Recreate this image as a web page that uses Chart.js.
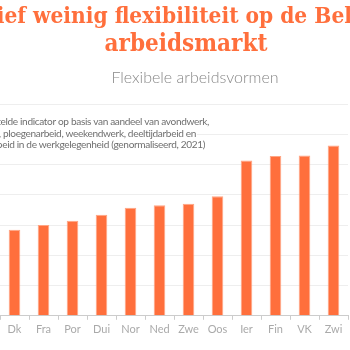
<!DOCTYPE html>
<html>
<head>
<meta charset="utf-8">
<script src="https://cdn.jsdelivr.net/npm/chart.js@4/dist/chart.umd.min.js"></script>
<style>
  html, body { margin: 0; padding: 0; background: #fff; overflow: hidden; }
  #wrap { width: 350px; height: 350px; }
</style>
</head>
<body>
<div id="wrap"><canvas id="flexChart" width="350" height="350"></canvas></div>
<script>
// Landen (afgekort) en samengestelde indicator
const landen = ['Dk', 'Fra', 'Por', 'Dui', 'Nor', 'Ned', 'Zwe', 'Oos', 'Ier', 'Fin', 'VK', 'Zwi'];
const indicator = [0.284, 0.300, 0.314, 0.334, 0.357, 0.365, 0.370, 0.395, 0.513, 0.528, 0.530, 0.563];
const yTicks = [0, 0.1, 0.2, 0.3, 0.4, 0.5, 0.6, 0.7];

const titelRegels = ['Relatief weinig flexibiliteit op de Belgische', 'arbeidsmarkt'];
const ondertitel = 'Flexibele arbeidsvormen';
const toelichting = [
    'Samengestelde indicator op basis van aandeel van avondwerk,',
    'nachtwerk, ploegenarbeid, weekendwerk, deeltijdarbeid en',
    'tijdelijke arbeid in de werkgelegenheid (genormaliseerd, 2021)'
];

const oranje = '#ff6f3c';

// Titels en toelichting zelf tekenen
const tekstPlugin = {
    id: 'tekstPlugin',
    beforeDatasetsDraw(chart) {
        const ctx = chart.ctx;
        ctx.save();
        ctx.font = '10.1px Lato';
        ctx.letterSpacing = '-0.35px';
        ctx.textAlign = 'right';
        ctx.textBaseline = 'alphabetic';
        const eindes = [209, 196, 205];
        const basis = [125, 136.5, 148.2];
        toelichting.forEach((regel, i) => {
            const w = ctx.measureText(regel).width;
            ctx.fillStyle = '#fff';
            ctx.fillRect(eindes[i] - w, basis[i] - 9, w + 1, 12);
            ctx.fillStyle = '#6f6f6f';
            ctx.fillText(regel, eindes[i], basis[i]);
        });
        ctx.restore();
    },
    afterDraw(chart) {
        const ctx = chart.ctx;
        ctx.save();
        ctx.textAlign = 'center';
        ctx.fillStyle = oranje;
        ctx.font = 'bold 22.5px "DejaVu Serif Condensed", "DejaVu Serif"';
        ctx.fillText(titelRegels[0], 181, 23);
        ctx.font = 'bold 24px "DejaVu Serif Condensed", "DejaVu Serif"';
        ctx.fillText(titelRegels[1], 186, 50.7);
        ctx.fillStyle = '#888';
        ctx.font = '300 16px Lato';
        ctx.fillText(ondertitel, 195, 83.3);
        ctx.restore();
    }
};

const ctx = document.getElementById('flexChart').getContext('2d');
new Chart(ctx, {
    type: 'bar',
    data: {
        labels: landen,
        datasets: [{
            label: 'Flexibele arbeidsvormen',
            data: indicator,
            backgroundColor: oranje,
            borderColor: '#ffa584',
            borderWidth: 1,
            categoryPercentage: 1,
            barPercentage: 0.4
        }]
    },
    options: {
        responsive: false,
        animation: false,
        layout: { padding: { top: 104, right: 2, bottom: 11, left: 0 } },
        plugins: {
            legend: { display: false },
            tooltip: { enabled: false }
        },
        scales: {
            x: {
                grid: { drawOnChartArea: false, drawTicks: true, tickLength: 4, color: '#ccc' },
                border: { color: '#ccc' },
                ticks: { color: '#aaa', font: { family: 'Lato', size: 11 }, padding: 3, maxRotation: 0 }
            },
            y: {
                min: 0,
                max: 0.7,
                afterBuildTicks: axis => { axis.ticks = yTicks.map(v => ({ value: v })); },
                grid: { color: '#eee', drawTicks: false },
                border: { display: false },
                ticks: { display: false }
            }
        }
    },
    plugins: [tekstPlugin]
});
</script>
</body>
</html>
